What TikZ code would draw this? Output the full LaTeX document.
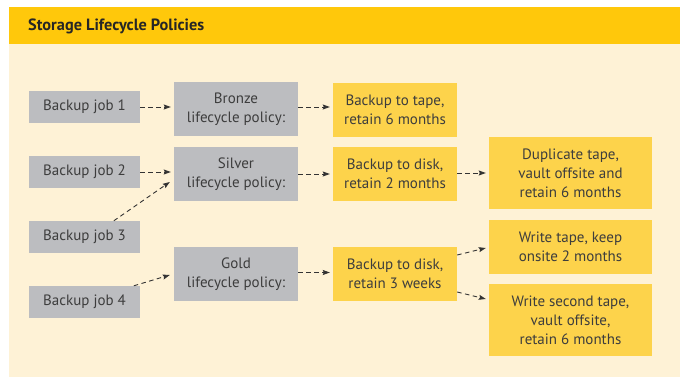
\documentclass[tikz,border=0pt]{standalone}
\usepackage{fontspec}
\setmainfont{PT Sans}
\usetikzlibrary{arrows.meta,calc}
\definecolor{hdr}{HTML}{FFC80B}
\definecolor{cream}{HTML}{FEF2D6}
\definecolor{graybox}{HTML}{BCBDC0}
\definecolor{yelbox}{HTML}{FDD34B}
\definecolor{txt}{HTML}{3D3D3D}
\definecolor{arr}{HTML}{333333}
\tikzset{
  box/.style={inner sep=0pt, align=center, text=txt, font=\fontsize{15}{19}\selectfont},
  jobbox/.style={box, fill=graybox, minimum width=111pt, minimum height=32pt},
  polbox/.style={box, fill=graybox, minimum width=124pt, minimum height=54pt},
  actbox/.style={box, fill=yelbox, minimum width=124pt, minimum height=54pt},
  farbox/.style={box, fill=yelbox, minimum width=163pt},
  conn/.style={draw=arr, line width=0.9pt, dash pattern=on 4.5pt off 3.5pt,
    -{Stealth[length=7pt,width=5pt,inset=1pt]}, shorten >=0pt}
}
\begin{document}
\begin{tikzpicture}[x=1pt,y=-1pt]
\useasboundingbox (0,0) rectangle (680,377);
\fill[cream] (9,7) rectangle (680,377);
\fill[hdr] (9,7) rectangle (680,44);
\node[anchor=west, text=black!85, font=\fontsize{16.3}{18}\selectfont\bfseries, inner sep=0pt] (title) at (28,26) {Storage Lifecycle Policies};

\node[jobbox] (j1) at (84.5,107) {Backup job 1};
\node[jobbox] (j2) at (84.5,172) {Backup job 2};
\node[jobbox] (j3) at (84.5,237) {Backup job 3};
\node[jobbox] (j4) at (84.5,302) {Backup job 4};

\node[polbox] (bronze) at (236,109) {Bronze\\lifecycle policy:};
\node[polbox] (silver) at (236,174) {Silver\\lifecycle policy:};
\node[polbox] (gold) at (236,274) {Gold\\lifecycle policy:};

\node[actbox] (a1) at (395,110) {Backup to tape,\\retain 6 months};
\node[actbox] (a2) at (395,174) {Backup to disk,\\retain 2 months};
\node[actbox] (a3) at (395,274) {Backup to disk,\\retain 3 weeks};

\node[farbox, minimum height=72pt] (dup) at (570.5,173) {Duplicate tape,\\vault offsite and\\retain 6 months};
\node[farbox, minimum height=54pt] (wt) at (570.5,247) {Write tape, keep\\onsite 2 months};
\node[farbox, minimum height=72pt] (ws) at (570.5,320) {Write second tape,\\vault offsite,\\retain 6 months};

\draw[conn] (j1.east) -- ($(j1.east -| bronze.west)+(-3,0)$);
\draw[conn] (bronze.east |- j1.east) -- ($(a1.west |- j1.east)+(-3,0)$);
\draw[conn] (j2.east) -- ($(j2.east -| silver.west)+(-3,0)$);
\draw[conn] (silver.east) -- ($(a2.west)+(-3,0)$);
\draw[conn] ($(j3.north west)+(85,0)$) -- ($(silver.west)+(-4,8)$);
\draw[conn] ($(j4.north west)+(105,0)$) -- ($(gold.west)+(-4,1)$);
\draw[conn] ($(gold.east)+(0,-1.5)$) -- ($(a3.west)+(-3,-1.5)$);
\draw[conn] ($(a2.east)+(0,-1)$) -- ($(dup.west)+(-3,0)$);
\draw[conn] ($(a3.east)+(0,-19)$) -- ($(wt.west)+(-3,1)$);
\draw[conn] ($(a3.east)+(0,18)$) -- ($(ws.west)+(-3,-21)$);
\end{tikzpicture}
\end{document}
